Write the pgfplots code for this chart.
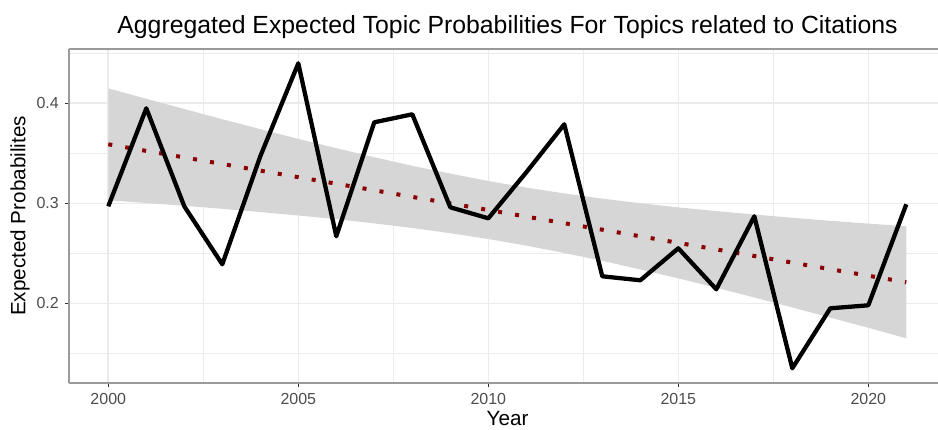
\documentclass[border=0pt]{standalone}
\usepackage{fontspec}
\setmainfont{Liberation Sans}
\usepackage{pgfplots}
\usepackage{pgfplotstable}
\pgfplotsset{compat=1.18}
\usepgfplotslibrary{fillbetween}

\definecolor{gridc}{HTML}{EBEBEB}
\definecolor{framec}{HTML}{9A9A9A}
\definecolor{tickc}{HTML}{333333}
\definecolor{labc}{HTML}{4D4D4D}
\definecolor{bandc}{HTML}{D6D6D6}
\definecolor{fitc}{HTML}{8B0000}

% yearly aggregated expected probability
\pgfplotstableread{
year prob
2000 0.297
2001 0.395
2002 0.297
2003 0.239
2004 0.347
2005 0.440
2006 0.267
2007 0.381
2008 0.389
2009 0.296
2010 0.285
2011 0.331
2012 0.379
2013 0.227
2014 0.223
2015 0.255
2016 0.214
2017 0.287
2018 0.135
2019 0.195
2020 0.198
2021 0.299
}\probtab

% linear fit with its confidence band
\pgfplotstableread{
year fit lo hi
2000 0.3590 0.3030 0.4150
2001 0.3524 0.3003 0.4045
2002 0.3459 0.2975 0.3943
2003 0.3393 0.2945 0.3841
2004 0.3327 0.2912 0.3742
2005 0.3261 0.2878 0.3644
2006 0.3196 0.2841 0.3551
2007 0.3130 0.2799 0.3461
2008 0.3064 0.2753 0.3375
2009 0.2999 0.2701 0.3297
2010 0.2933 0.2643 0.3223
2011 0.2867 0.2577 0.3157
2012 0.2801 0.2503 0.3099
2013 0.2736 0.2425 0.3047
2014 0.2670 0.2339 0.3001
2015 0.2604 0.2249 0.2959
2016 0.2539 0.2156 0.2922
2017 0.2473 0.2058 0.2888
2018 0.2407 0.1959 0.2855
2019 0.2341 0.1857 0.2825
2020 0.2276 0.1755 0.2797
2021 0.2210 0.1650 0.2770
}\fittab

\begin{document}
\begin{tikzpicture}
\begin{axis}[
  scale only axis, width=651.75pt, height=250.5pt,
  xmin=1998.966, xmax=2021.834, ymin=0.1203, ymax=0.4543,
  xtick={2000,2005,2010,2015,2020}, xticklabels={2000,2005,2010,2015,2020},
  ytick={0.2,0.3,0.4}, yticklabels={0.2,0.3,0.4},
  minor xtick={2002.5,2007.5,2012.5,2017.5},
  minor ytick={0.15,0.25,0.35,0.45},
  grid=both,
  major grid style={gridc, line width=1.2pt},
  minor grid style={gridc, line width=0.7pt},
  axis x line*=bottom, axis y line*=left,
  axis line style={framec, line width=1.1pt, -},
  tick align=outside, major tick length=3pt, minor tick length=0pt,
  tick style={tickc, line width=0.8pt},
  ticklabel style={font=\fontsize{12}{14}\selectfont, text=labc, inner sep=0pt},
  xticklabel style={anchor=base, yshift=-13pt},
  yticklabel style={anchor=east, xshift=-4.5pt},
]
\addplot[draw=none, name path=hi, forget plot] table[x=year, y=hi] {\fittab};
\addplot[draw=none, name path=lo, forget plot] table[x=year, y=lo] {\fittab};
\addplot[fill=bandc, draw=none] fill between[of=hi and lo];
\addplot[fitc, line width=3pt, dash pattern=on 3pt off 9.9pt] table[x=year, y=fit] {\fittab};
\addplot[black, line width=3.2pt, line join=round] table[x=year, y=prob] {\probtab};
\draw[framec, line width=1.1pt] (rel axis cs:0,1) -- (rel axis cs:1,1);
\end{axis}
\node[anchor=base, font=\fontsize{15.5}{18}\selectfont] at (328.9pt, -32.2pt) {Year};
\node[anchor=base, font=\fontsize{18.6}{22}\selectfont] at (328.9pt, 261.75pt)
  {Aggregated Expected Topic Probabilities For Topics related to Citations};
\node[rotate=90, font=\fontsize{15.5}{18}\selectfont] at (-36.75pt, 125.25pt) {Expected Probabilites};
\pgfresetboundingbox
\path (-51.75pt,-34.5pt) rectangle (651.75pt,287.25pt);
\end{tikzpicture}
\end{document}
